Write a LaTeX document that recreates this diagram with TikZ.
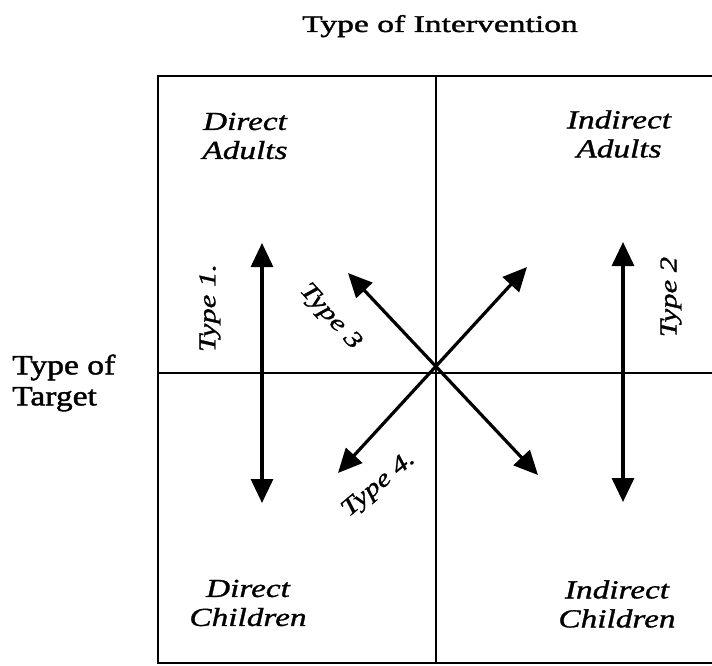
\documentclass[tikz,border=0pt]{standalone}
\usepackage{fontspec}
\setmainfont{Liberation Serif}
\newfontfamily\labelserif[FakeStretch=1.28, FakeBold=1.2]{Liberation Serif}
\newfontfamily\sideserif[FakeStretch=1.2, FakeBold=1.6]{Liberation Serif}
\newfontfamily\titleserif[FakeStretch=1.4, FakeBold=1.6]{Liberation Serif}
\usepackage{tikz}
\usetikzlibrary{arrows.meta, positioning}
\tikzset{
	typearrow/.style={line width=3.2pt, draw=black,
	{Triangle[width=22pt,length=24pt]}-{Triangle[width=22pt,length=24pt]}}
}
\tikzset{
	celllabel/.style={align=center, inner sep=0pt,
	font=\labelserif\itshape\fontsize{26}{29}\selectfont}
}
\tikzset{
	typelabel/.style={inner sep=0pt,
	font=\labelserif\itshape\fontsize{24}{29}\selectfont}
}

\begin{document}
\begin{tikzpicture}[x=1pt, y=1pt]
		\newcommand{\cellw}{278}
		\newcommand{\cellh}{293}
		\useasboundingbox (-436, -292) rectangle (276, 373);

		% frame and dividers (right side runs off the page)
		\draw[line width=2.6pt] (276, \cellh + 4) -- (-\cellw, \cellh + 4) -- (-\cellw, -\cellh + 3) -- (276, -\cellh + 3);
		\draw[line width=2.6pt] (0, \cellh + 4) -- (0, -\cellh + 3);
		\draw[line width=2.6pt] (-\cellw, 0) -- (276, 0);

		% axis titles
		\node[anchor=base, inner sep=0pt, font=\titleserif\fontsize{24}{27}\selectfont] (intervention) at (4, 341) {Type of Intervention};
		\node[anchor=west, align=left, inner sep=0pt, font=\sideserif\fontsize{28}{31}\selectfont] (target) at (-424, -10) {Type of\\Target};

		% quadrants
		\node[celllabel] (directadults) at (-191, 237) {Direct\\Adults};
		\node[celllabel] (indirectadults) at (183, 239) {Indirect\\Adults};
		\node[celllabel] (directchildren) at (-188, -230) {Direct\\Children};
		\node[celllabel] (indirectchildren) at (181, -231) {Indirect\\Children};

		% arrow ends
		\coordinate (oneup) at (-174, 130);
		\coordinate (onedown) at (-174, -130);
		\coordinate (twoup) at (187, 131);
		\coordinate (twodown) at (187, -129);
		\coordinate (threeup) at (-88, 100);
		\coordinate (threedown) at (102, -102);
		\coordinate (fourup) at (91, 106);
		\coordinate (fourdown) at (-98, -100);

		% types of intervention
		\draw[typearrow] (oneup) -- (onedown);
		\draw[typearrow] (twoup) -- (twodown);
		\draw[typearrow] (threeup) -- (threedown);
		\draw[typearrow] (fourdown) -- (fourup);

		\node[typelabel, rotate=90] (typeone) at (-226, 65) {Type 1.};
		\node[typelabel, rotate=90] (typetwo) at (235, 76) {Type 2};
		\node[typelabel, rotate=-48] (typethree) at (-106, 56) {Type 3};
		\node[typelabel, rotate=40] (typefour) at (-57, -112) {Type 4.};

	\end{tikzpicture}
\end{document}
